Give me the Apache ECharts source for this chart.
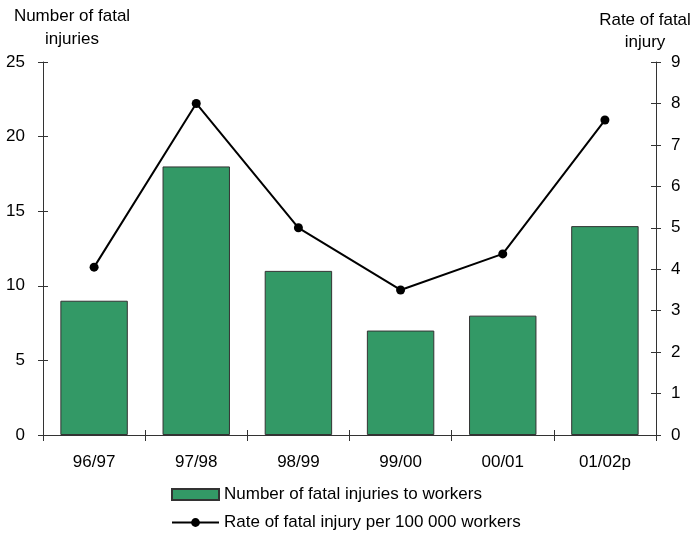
<!DOCTYPE html>
<html>
<head>
<meta charset="utf-8">
<script src="https://cdn.jsdelivr.net/npm/echarts@6/dist/echarts.min.js"></script>
<style>
    html, body { margin: 0; padding: 0; background: #fff; }
    #chart { width: 696px; height: 534px; }
</style>
</head>
<body>
<div id="chart"></div>
<script>
    // values
    var years = ['96/97', '97/98', '98/99', '99/00', '00/01', '01/02p'];
    var fatalInjuries = [9, 18, 11, 7, 8, 14];
    var fatalRate = [4.05, 8.0, 5.0, 3.5, 4.37, 7.6];
    var barName = 'Number of fatal injuries to workers';
    var lineName = 'Rate of fatal injury per 100 000 workers';

    var font = 'Liberation Sans, Arial, sans-serif';
    var fontSize = 17;
    var axisColor = '#333';

    var chart = echarts.init(document.getElementById('chart'));

    // helper: a y axis that only draws ticks pointing into the plot,
    // so together with the main axis the ticks cross the line
    function innerTicks(pos, max, interval) {
        return {
            type: 'value',
            position: pos,
            offset: 0,
            min: 0,
            max: max,
            interval: interval,
            axisLine: {show: false},
            axisTick: {show: true, inside: true, length: 5, lineStyle: {color: axisColor}},
            axisLabel: {show: false},
            splitLine: {show: false}
        };
    }

    // one legend row per series, stacked like the original
    function legendRow(name, top, icon) {
        return {
            left: 171,
            top: top,
            padding: 0,
            itemWidth: 47,
            itemHeight: 11,
            textStyle: {fontSize: fontSize, color: '#000', fontFamily: font},
            data: [icon ? {name: name, icon: icon} : {name: name}]
        };
    }

    chart.setOption({
        backgroundColor: '#fff',
        animation: false,
        textStyle: {fontFamily: font},
        grid: {left: 43, right: 40, top: 62, bottom: 99},
        graphic: [
            {
                type: 'text',
                x: 72, y: 5,
                style: {
                    text: 'Number of fatal\ninjuries',
                    font: fontSize + 'px ' + font,
                    fill: '#000',
                    align: 'center',
                    lineHeight: 23
                }
            },
            {
                type: 'text',
                x: 645, y: 9,
                style: {
                    text: 'Rate of fatal\ninjury',
                    font: fontSize + 'px ' + font,
                    fill: '#000',
                    align: 'center',
                    lineHeight: 22
                }
            }
        ],
        legend: [
            legendRow(barName, 486, 'rect'),
            legendRow(lineName, 514)
        ],
        xAxis: [
            {
                type: 'category',
                data: years,
                position: 'bottom',
                axisLine: {lineStyle: {color: axisColor}},
                axisTick: {show: true, length: 6, lineStyle: {color: axisColor}},
                axisLabel: {color: '#000', fontSize: fontSize, margin: 19, fontFamily: font}
            },
            {
                type: 'category',
                data: years,
                position: 'bottom',
                offset: 0,
                axisLine: {show: false},
                axisTick: {show: true, inside: true, length: 5, lineStyle: {color: axisColor}},
                axisLabel: {show: false}
            }
        ],
        yAxis: [
            {
                type: 'value',
                position: 'left',
                min: 0,
                max: 25,
                interval: 5,
                axisLine: {show: true, lineStyle: {color: axisColor}},
                axisTick: {show: true, length: 5, lineStyle: {color: axisColor}},
                axisLabel: {color: '#000', fontSize: fontSize, margin: 18, fontFamily: font},
                splitLine: {show: false}
            },
            {
                type: 'value',
                position: 'right',
                min: 0,
                max: 9,
                interval: 1,
                axisLine: {show: true, lineStyle: {color: axisColor}},
                axisTick: {show: true, length: 5, lineStyle: {color: axisColor}},
                axisLabel: {color: '#000', fontSize: fontSize, margin: 15, fontFamily: font},
                splitLine: {show: false}
            },
            innerTicks('left', 25, 5),
            innerTicks('right', 9, 1)
        ],
        series: [
            {
                name: barName,
                type: 'bar',
                xAxisIndex: 0,
                yAxisIndex: 0,
                barWidth: '66%',
                itemStyle: {color: '#339966', borderColor: '#333', borderWidth: 1},
                data: fatalInjuries
            },
            {
                name: lineName,
                type: 'line',
                xAxisIndex: 0,
                yAxisIndex: 1,
                symbol: 'circle',
                symbolSize: 9,
                lineStyle: {color: '#000', width: 2},
                itemStyle: {color: '#000'},
                data: fatalRate
            }
        ]
    });
</script>
</body>
</html>
